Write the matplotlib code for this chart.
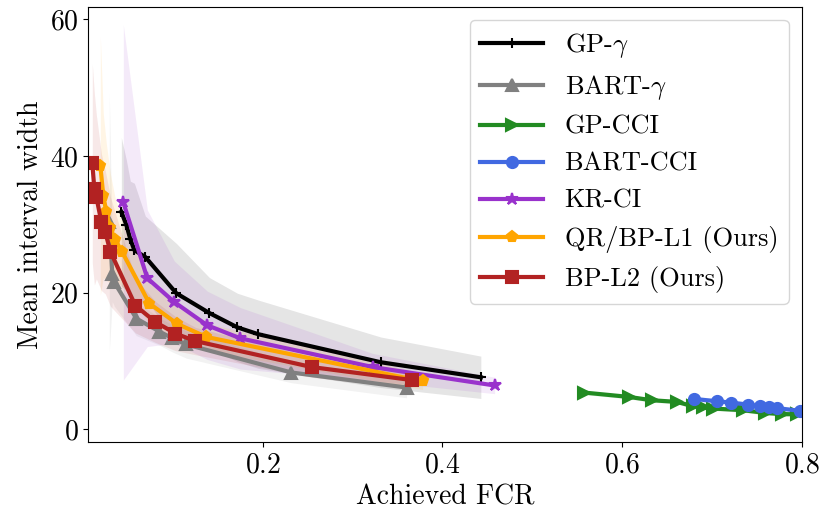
import matplotlib
matplotlib.use("Agg")
import matplotlib.pyplot as plt
import numpy as np

plt.rcParams['font.family'] = 'serif'
plt.rcParams['font.serif'] = ['cmr10']
plt.rcParams['mathtext.fontset'] = 'cm'
plt.rcParams['axes.formatter.use_mathtext'] = True

# GP-gamma
gp_g_x = [0.0428, 0.0484, 0.0528, 0.0573, 0.0695, 0.1040, 0.1408, 0.1720, 0.1953, 0.3314, 0.4428]
gp_g_y = [31.8, 29.9, 27.8, 26.2, 25.2, 19.9, 17.0, 14.9, 13.9, 9.8, 7.6]
gp_g_s = [10.9, 9.5, 8.5, 9.8, 6.0, 7.3, 5.2, 5.0, 5.0, 3.7, 3.1]

# BART-gamma
bart_g_x = [0.0294, 0.0327, 0.0350, 0.0595, 0.0851, 0.0996, 0.1151, 0.2321, 0.3601]
bart_g_y = [30.3, 22.7, 21.5, 16.2, 14.3, 13.3, 12.4, 8.3, 6.1]
bart_g_s = [19.0, 4.0, 3.5, 2.5, 2.0, 2.0, 2.0, 1.5, 1.5]

# GP-CCI
gp_c_x = [0.5572, 0.6073, 0.6330, 0.6608, 0.6786, 0.6898, 0.7009, 0.7343, 0.7588, 0.7777, 0.7944]
gp_c_y = [5.37, 4.73, 4.24, 4.0, 3.37, 3.18, 3.03, 2.78, 2.39, 2.2, 2.2]
gp_c_s = [0.3, 0.3, 0.3, 0.3, 0.3, 0.3, 0.3, 0.3, 0.3, 0.3, 0.3]

# BART-CCI
bart_c_x = [0.680, 0.705, 0.7206, 0.7402, 0.7532, 0.7636, 0.7718, 0.7978]
bart_c_y = [4.43, 4.1, 3.9, 3.6, 3.37, 3.26, 3.1, 2.68]
bart_c_s = [0.4, 0.4, 0.4, 0.4, 0.4, 0.4, 0.4, 0.4]

# KR-CI
kr_x = [0.045, 0.0717, 0.1018, 0.1385, 0.1753, 0.3223, 0.4581]
kr_y = [33.2, 22.1, 18.6, 15.2, 13.3, 9.1, 6.4]
kr_s = [26.0, 10.0, 6.0, 5.0, 4.5, 2.0, 1.2]

# QR/BP-L1
l1_x = [0.0194, 0.0227, 0.0261, 0.0306, 0.0361, 0.0439, 0.0740, 0.1052, 0.1375, 0.3780]
l1_y = [38.6, 34.2, 31.8, 29.4, 27.7, 25.9, 18.4, 15.4, 13.5, 7.0]
l1_s = [19.0, 12.0, 10.0, 8.0, 6.0, 5.0, 3.0, 2.5, 2.0, 1.2]

# BP-L2
l2_x = [0.0105, 0.0128, 0.015, 0.0206, 0.025, 0.0306, 0.0584, 0.0807, 0.103, 0.1253, 0.2545, 0.3657]
l2_y = [38.9, 35.1, 34.0, 30.3, 28.8, 26.0, 18.1, 15.7, 14.0, 12.9, 9.1, 7.2]
l2_s = [14.6, 14.0, 12.0, 10.0, 9.0, 8.0, 4.0, 3.0, 2.5, 2.0, 1.5, 1.2]

series = [
    (gp_g_x, gp_g_y, gp_g_s, 'black', '+', r'GP-$\gamma$', 7),
    (bart_g_x, bart_g_y, bart_g_s, 'gray', '^', r'BART-$\gamma$', 8),
    (gp_c_x, gp_c_y, gp_c_s, 'forestgreen', '>', 'GP-CCI', 8),
    (bart_c_x, bart_c_y, bart_c_s, 'royalblue', 'o', 'BART-CCI', 8),
    (kr_x, kr_y, kr_s, 'darkorchid', '*', 'KR-CI', 9),
    (l1_x, l1_y, l1_s, 'orange', 'p', 'QR/BP-L1 (Ours)', 8),
    (l2_x, l2_y, l2_s, 'firebrick', 's', 'BP-L2 (Ours)', 8),
]

fig, ax = plt.subplots(figsize=(8.25, 5.19), dpi=100)
for x, y, s, c, m, lab, ms in series:
    x = np.array(x); y = np.array(y); s = np.array(s)
    ax.fill_between(x, y - s, y + s, color=c, alpha=0.1, linewidth=0)
    ax.plot(x, y, color=c, marker=m, label=lab, linewidth=3, markersize=ms,
            markeredgewidth=1.5)

ax.set_xlim(0.006, 0.8)
ax.set_ylim(-1.9, 61.8)
ax.set_xticks([0.2, 0.4, 0.6, 0.8])
ax.set_yticks([0, 20, 40, 60])
ax.tick_params(labelsize=20)
ax.set_xlabel('Achieved FCR', fontsize=20)
ax.set_ylabel('Mean interval width', fontsize=20)
ax.legend(fontsize=19, loc='upper right', handlelength=2.4)
fig.subplots_adjust(left=0.107, right=0.972, top=0.9865, bottom=0.148)
fig.savefig('out.png')
